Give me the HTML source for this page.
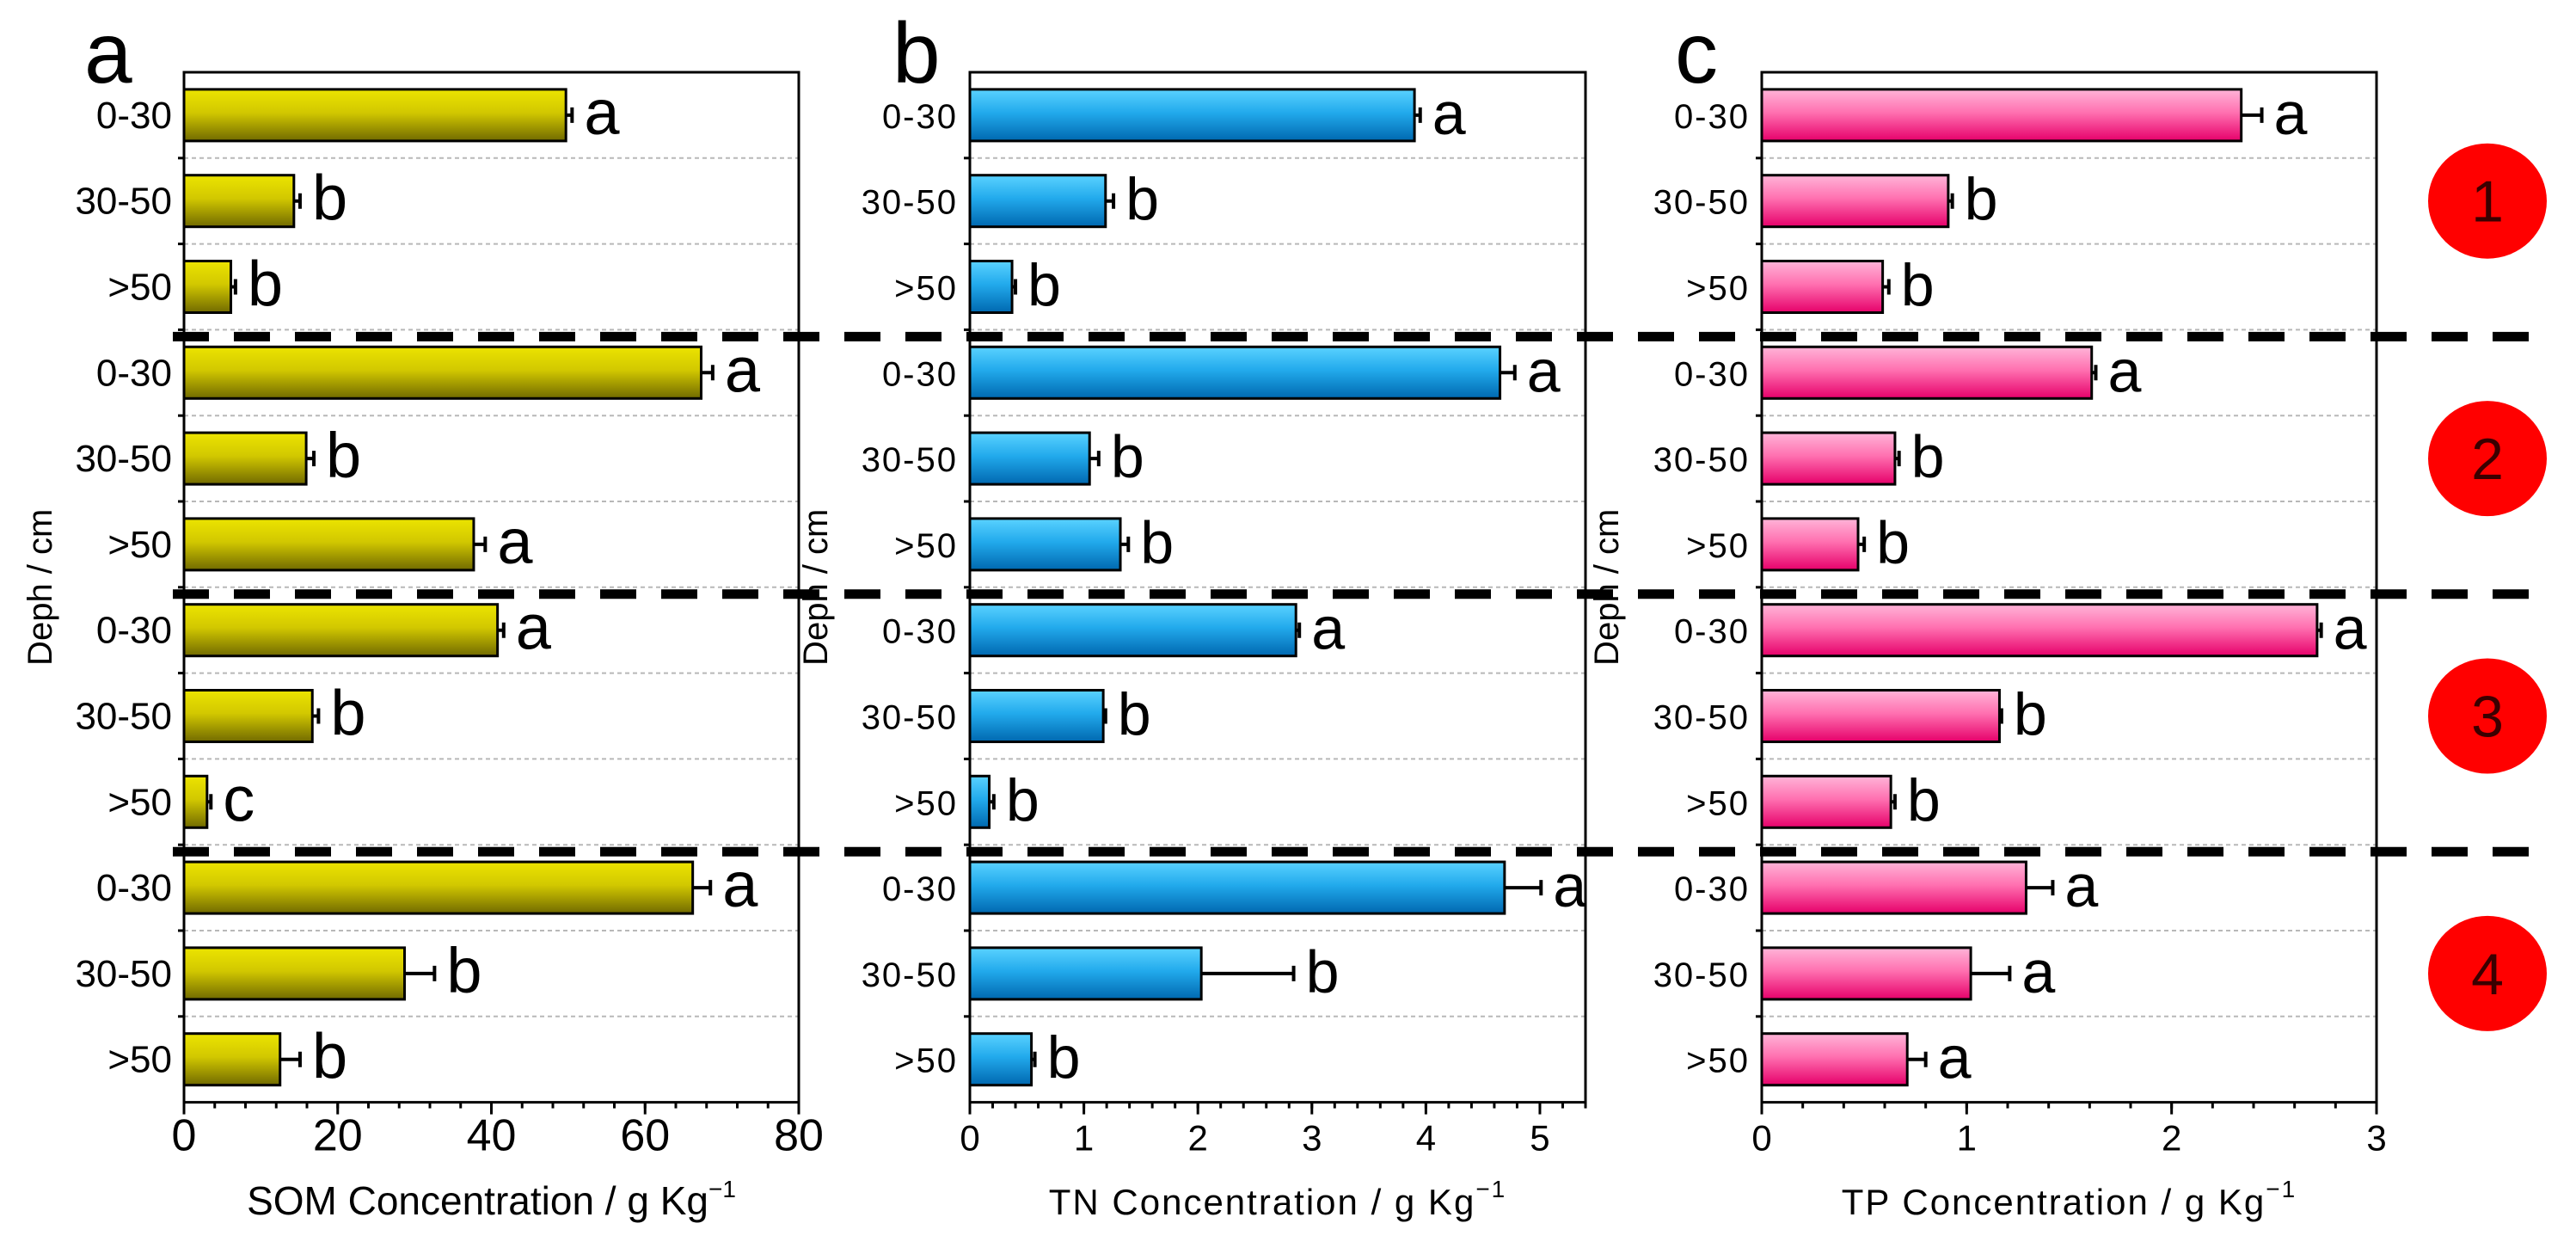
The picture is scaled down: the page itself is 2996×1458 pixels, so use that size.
<!DOCTYPE html>
<html><head><meta charset="utf-8"><style>
html,body{margin:0;padding:0;background:#fff}
svg{display:block}
text{font-family:"Liberation Sans",sans-serif;fill:#000}
</style></head><body>
<svg id="chart" width="2996" height="1458" viewBox="0 0 2996 1458" xmlns="http://www.w3.org/2000/svg">
<defs>
<linearGradient id="gy" x1="0" y1="0" x2="0" y2="1"><stop offset="0" stop-color="#ece400"/><stop offset="0.45" stop-color="#d2c800"/><stop offset="1" stop-color="#716a00"/></linearGradient>
<linearGradient id="gb" x1="0" y1="0" x2="0" y2="1"><stop offset="0" stop-color="#5ad2ff"/><stop offset="0.45" stop-color="#22aaec"/><stop offset="1" stop-color="#0068b0"/></linearGradient>
<linearGradient id="gp" x1="0" y1="0" x2="0" y2="1"><stop offset="0" stop-color="#ffb4d8"/><stop offset="0.45" stop-color="#ff70b0"/><stop offset="1" stop-color="#e6006a"/></linearGradient>
</defs>
</svg>
<script>
const categories = ["0-30","30-50",">50","0-30","30-50",">50","0-30","30-50",">50","0-30","30-50",">50"];
const somValues = [49.7,14.3,6.1,67.3,15.9,37.7,40.8,16.7,3.0,66.2,28.7,12.5];
const somErrors = [0.8,0.8,0.6,1.5,1.0,1.5,0.8,0.8,0.5,2.3,3.9,2.6];
const somLetters = ["a","b","b","a","b","a","a","b","c","a","b","b"];
const tnValues = [3.90,1.19,0.37,4.65,1.05,1.32,2.86,1.17,0.17,4.69,2.03,0.54];
const tnErrors = [0.05,0.07,0.03,0.13,0.08,0.07,0.03,0.02,0.04,0.32,0.81,0.03];
const tnLetters = ["a","b","b","a","b","b","a","b","b","a","b","b"];
const tpValues = [2.34,0.91,0.59,1.61,0.65,0.47,2.71,1.16,0.63,1.29,1.02,0.71];
const tpErrors = [0.10,0.02,0.03,0.02,0.02,0.03,0.02,0.01,0.02,0.13,0.19,0.09];
const tpLetters = ["a","b","b","a","b","b","a","b","b","a","a","a"];
const somTicks = [0,20,40,60,80];
const tnTicks = [0,1,2,3,4,5];
const tpTicks = [0,1,2,3];
const siteLabels = ["1","2","3","4"];

const NS="http://www.w3.org/2000/svg";
const svg=document.getElementById('chart');
function mk(tag,attrs,parent){const e=document.createElementNS(NS,tag);for(const k in attrs)e.setAttribute(k,attrs[k]);(parent||svg).appendChild(e);return e;}
const TOP=84, CAT=99.8, BOT=TOP+12*CAT;

function panel(cfg){
  const g=mk('g',{});
  
  
  const L=cfg.left,R=cfg.right;
  const xs=v=>L+(v/cfg.max)*(R-L);
  const yc=i=>TOP+CAT*(i+0.5);
  for(let i=1;i<12;i++){
    const gl=mk('line',{x1:L,x2:R,y1:TOP+CAT*i,y2:TOP+CAT*i,stroke:'#b8b8b8','stroke-width':2,'stroke-dasharray':'5,4'},g);
    
    
    const tk=mk('line',{x1:L-7,x2:L,y1:TOP+CAT*i,y2:TOP+CAT*i,stroke:'#000','stroke-width':3},g);
    
    
  }
  for(let i=0;i<12;i++){
    const v=cfg.values[i],e=cfg.errors[i];
    const b=mk('rect',{x:L,y:yc(i)-30,width:xs(v)-L,height:60,fill:cfg.fill,stroke:'#000','stroke-width':3},g);
    
    
    const ex=xs(v+e);
    const el=mk('path',{d:`M${xs(v)},${yc(i)} H${ex} M${ex},${yc(i)-9} V${yc(i)+9}`,stroke:'#000','stroke-width':4,fill:'none'},g);
    
    
    const t=mk('text',{x:ex+14,y:yc(i)+22,'font-size':cfg.letterSize,'font-family':cfg.font},g);
    t.textContent=cfg.letters[i];
    
    
    const cl=mk('text',{x:L-14,y:yc(i)+15,'font-size':cfg.catSize,'text-anchor':'end','font-family':cfg.font,'letter-spacing':cfg.ls},g);
    cl.textContent=categories[i];
    
    
  }
  const fr=mk('rect',{x:L,y:TOP,width:R-L,height:BOT-TOP,fill:'none',stroke:'#000','stroke-width':3},g);
  
  
  for(let v=0;v<=cfg.max+1e-9;v+=cfg.minor){
    const mt=mk('line',{x1:xs(v),x2:xs(v),y1:BOT,y2:BOT+7,stroke:'#000','stroke-width':3},g);
    
    
  }
  cfg.ticks.forEach(v=>{
    const t=mk('line',{x1:xs(v),x2:xs(v),y1:BOT,y2:BOT+14,stroke:'#000','stroke-width':3},g);
    
    
    const tl=mk('text',{x:xs(v),y:BOT+56,'font-size':cfg.tickSize,'text-anchor':'middle','font-family':cfg.font},g);
    tl.textContent=v;
    
    
  });
  const xt=mk('text',{x:(L+R)/2,y:1412,'font-size':cfg.titleSize,'text-anchor':'middle','font-family':cfg.font,'letter-spacing':cfg.ls},g);
  xt.innerHTML=cfg.title+'<tspan font-size="28" dy="-20">−1</tspan>';
  
  
  const yt=mk('text',{x:0,y:0,'font-size':40,'text-anchor':'middle',transform:`translate(${cfg.ytx},${TOP+6*CAT}) rotate(-90)`},g);
  yt.textContent='Deph / cm';
  
  
  const pl=mk('text',{x:cfg.plx,y:96,'font-size':100},g);
  pl.textContent=cfg.panelLetter;
  
  
}
const narrow='"Liberation Sans Narrow","Liberation Sans",sans-serif';
const wide='"Liberation Sans",sans-serif';
panel({name:'panel-som',key:'som',left:214,right:929,max:80,values:somValues,errors:somErrors,letters:somLetters,fill:'url(#gy)',ticks:somTicks,minor:4,title:'SOM Concentration  / g Kg',font:narrow,letterSize:74,catSize:44,tickSize:52,titleSize:46,ls:0,ytx:60,plx:98,panelLetter:'a'});
panel({name:'panel-tn',key:'tn',left:1128,right:1844,max:5.4,values:tnValues,errors:tnErrors,letters:tnLetters,fill:'url(#gb)',ticks:tnTicks,minor:0.2,title:'TN Concentration  / g Kg',font:wide,letterSize:70,catSize:40,tickSize:42,titleSize:42,ls:2,ytx:962,plx:1038,panelLetter:'b'});
panel({name:'panel-tp',key:'tp',left:2049,right:2764,max:3,values:tpValues,errors:tpErrors,letters:tpLetters,fill:'url(#gp)',ticks:tpTicks,minor:0.2,title:'TP Concentration  / g Kg',font:wide,letterSize:70,catSize:40,tickSize:42,titleSize:42,ls:2,ytx:1882,plx:1948,panelLetter:'c'});

for(let k=1;k<4;k++){
  const y=TOP+CAT*3*k+8;
  const d=mk('line',{x1:201,x2:2945,y1:y,y2:y,stroke:'#000','stroke-width':11,'stroke-dasharray':'42,29'});
  
  
}
siteLabels.forEach((s,k)=>{
  const cy=TOP+CAT*(3*k+1.5);
  const c=mk('ellipse',{cx:2893,cy:cy,rx:69,ry:67,fill:'#ff0000'});
  
  
  const t=mk('text',{x:2893,y:cy+24,'font-size':68,'text-anchor':'middle',style:'fill:#3a0000'});
  t.textContent=s;
  
  
});
</script>
</body></html>
